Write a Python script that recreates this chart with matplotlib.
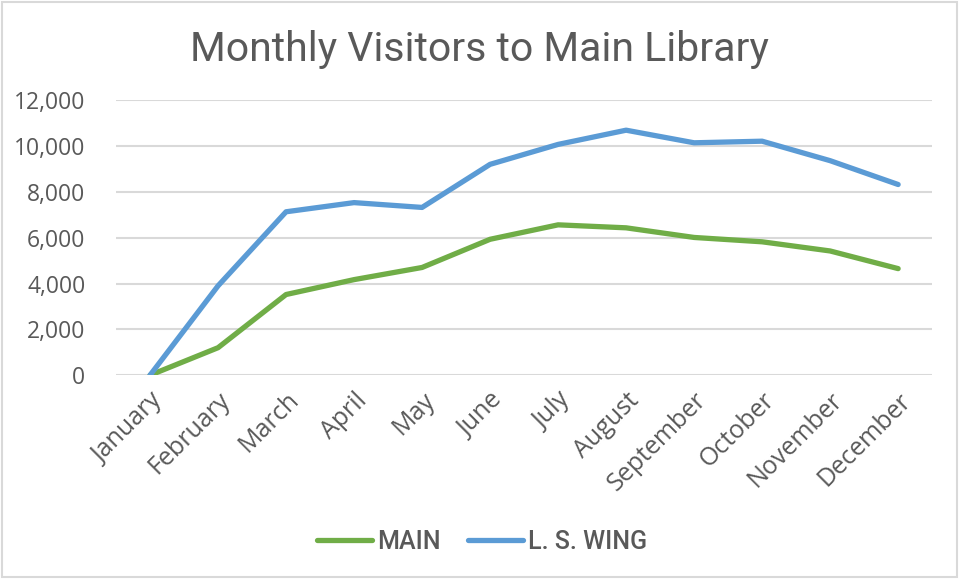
import matplotlib
matplotlib.use("Agg")
import matplotlib.pyplot as plt
from matplotlib.patches import Rectangle

months = ["January", "February", "March", "April", "May", "June",
          "July", "August", "September", "October", "November", "December"]
main_visitors = [0, 1200, 3520, 4170, 4700, 5930, 6560, 6430, 6010, 5820, 5420, 4650]
wing_visitors = [0, 3900, 7130, 7530, 7320, 9200, 10070, 10690, 10140, 10210, 9360, 8320]
y_ticks = [0, 2000, 4000, 6000, 8000, 10000, 12000]

plt.rcParams['font.family'] = ['Roboto', 'DejaVu Sans']
text_color = '#595959'
tick_font = 'Open Sans'

fig = plt.figure(figsize=(9.59, 5.79), dpi=100)
ax = fig.add_axes([0.121, 0.352, 0.851, 0.475])

x = range(len(months))
ax.plot(x, main_visitors, color='#70AD47', linewidth=3.8, label='MAIN', solid_capstyle='round')
ax.plot(x, wing_visitors, color='#5B9BD5', linewidth=3.8, label='L. S. WING', solid_capstyle='round')

ax.set_xlim(-0.5, len(months) - 0.5)
ax.set_ylim(0, 12000)
ax.set_yticks(y_ticks)
ax.set_yticklabels([f"{v:,}" for v in y_ticks], family=tick_font)
ax.set_xticks(list(x))
ax.set_xticklabels(months, rotation=45, ha='right', va='top', rotation_mode='anchor',
                   family=tick_font)
ax.tick_params(axis='y', length=0, pad=22, labelsize=16.5, labelcolor=text_color)
ax.tick_params(axis='x', length=0, pad=9, labelsize=18, labelcolor=text_color)

ax.grid(axis='y', color='#d9d9d9', linewidth=1.5)
ax.set_axisbelow(True)
for s in ax.spines.values():
    s.set_visible(False)

fig.text(0.5, 0.915, "Monthly Visitors to Main Library", ha='center', va='center',
         fontsize=29.5, color=text_color)

leg = fig.legend(loc='center', bbox_to_anchor=(0.503, 0.064), ncol=2, frameon=False,
                 fontsize=18, handlelength=2.2, columnspacing=1.1, handletextpad=0.2)
for t in leg.get_texts():
    t.set_color(text_color)
    t.set_fontweight('medium')

fig.patches.append(Rectangle((0.002, 0.003), 0.996, 0.994, transform=fig.transFigure,
                             fill=False, edgecolor='#d9d9d9', linewidth=1.5))

fig.savefig("out.png", dpi=100, facecolor='white')
